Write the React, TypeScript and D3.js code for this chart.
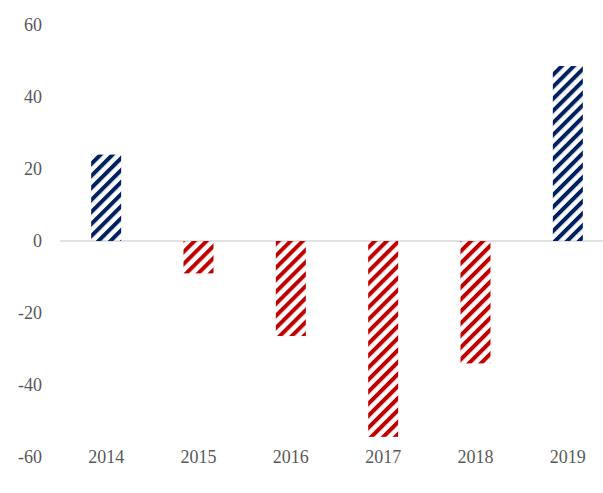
import React from "react";
import * as d3 from "d3";

const categories = ["2014", "2015", "2016", "2017", "2018", "2019"];
const values = [24, -9, -26.4, -54.4, -34, 48.6];
const yTicks = [60, 40, 20, 0, -20, -40, -60];

const W = 603;
const H = 493;
const NAVY = "#002060";
const RED = "#C00000";

export default function App() {
  const x = d3.scaleBand<string>().domain(categories).range([60, 614]).paddingInner(0.675).paddingOuter(0.3375);
  const y = d3.scaleLinear().domain([-60, 60]).range([457, 25]);
  const bw = 30;
  const P = 8.5;
  return (
    <svg width={W} height={H} style={{ position: "absolute", left: 0, top: 0 }}>
      <defs>
        <pattern id="pNavy" patternUnits="userSpaceOnUse" width={P} height={P} patternTransform="rotate(45)">
          <rect x={0} y={0} width={4} height={P} fill={NAVY} />
        </pattern>
        <pattern id="pRed" patternUnits="userSpaceOnUse" width={P} height={P} patternTransform="rotate(45)">
          <rect x={0} y={0} width={4} height={P} fill={RED} />
        </pattern>
      </defs>
      <rect x={0} y={0} width={W} height={H} fill="#fff" />
      {yTicks.map((t) => (
        <text key={t} x={42} y={y(t)} textAnchor="end" dominantBaseline="central"
          fontFamily="Liberation Serif, Times New Roman, serif" fontSize={18} fill="#595959">{t}</text>
      ))}
      <line x1={60} x2={W} y1={y(0)} y2={y(0)} stroke="#D9D9D9" strokeWidth={1.5} />
      {categories.map((c, i) => {
        const v = values[i];
        const cx = (x(c) as number) + x.bandwidth() / 2;
        const y0 = y(Math.max(0, v));
        const y1 = y(Math.min(0, v));
        return (
          <rect key={c} x={cx - bw / 2} y={y0} width={bw} height={y1 - y0}
            fill={v >= 0 ? "url(#pNavy)" : "url(#pRed)"} />
        );
      })}
      {categories.map((c) => (
        <text key={c} x={(x(c) as number) + x.bandwidth() / 2} y={457} textAnchor="middle" dominantBaseline="central"
          fontFamily="Liberation Serif, Times New Roman, serif" fontSize={18} fill="#595959">{c}</text>
      ))}
    </svg>
  );
}
